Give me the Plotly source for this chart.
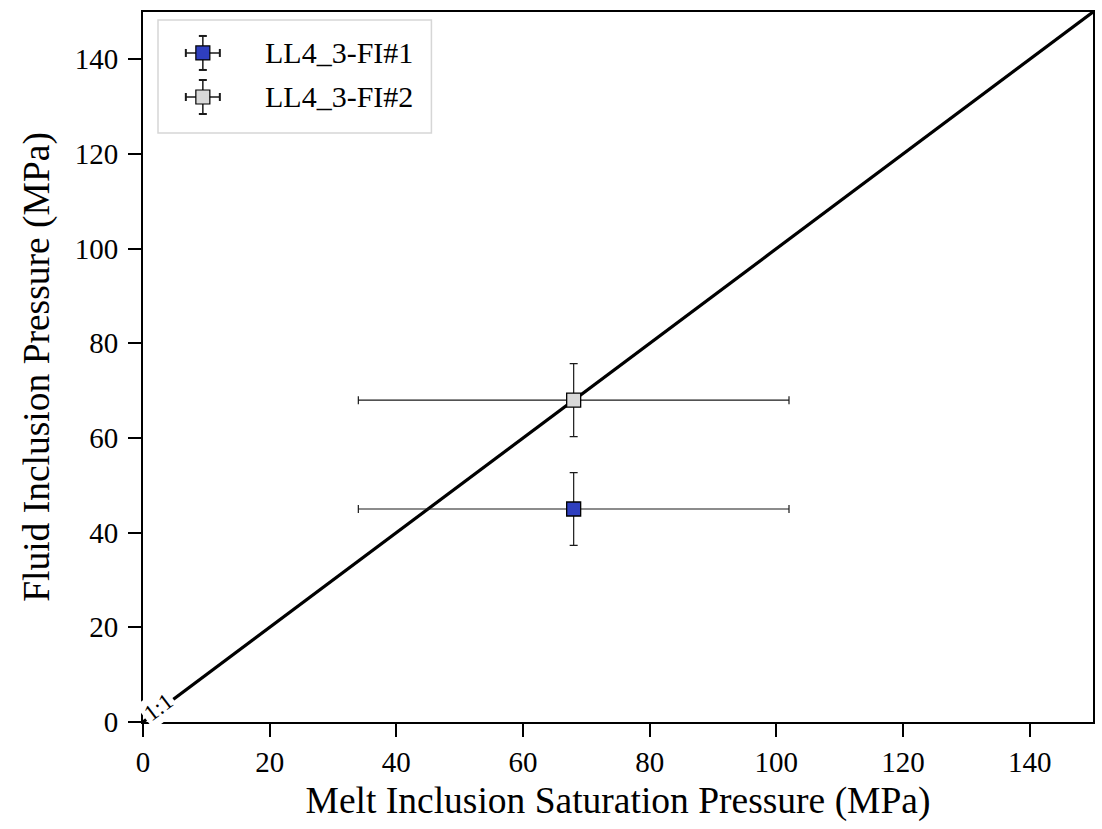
import plotly.graph_objects as go

# Data
series_names = ["LL4_3-FI#1", "LL4_3-FI#2"]
melt_sat_pressure = [68.0, 68.0]
melt_sat_err = [34.0, 34.0]
fluid_pressure = [45.0, 68.0]
fluid_err = [7.7, 7.7]
marker_colors = ["#2f3fbf", "#d9d9d9"]
one_to_one = [0, 150]
ticks = [0, 20, 40, 60, 80, 100, 120, 140]

FONT = "Liberation Serif, Times New Roman, serif"
ERR_COLOR = "#1a1a1a"

fig = go.Figure()

fig.add_trace(go.Scatter(
    x=one_to_one, y=one_to_one, mode="lines",
    line=dict(color="black", width=3.2), showlegend=False, hoverinfo="skip"))

for i, name in enumerate(series_names):
    fig.add_trace(go.Scatter(
        x=[melt_sat_pressure[i]], y=[fluid_pressure[i]], mode="markers", name=name,
        showlegend=False,
        marker=dict(symbol="square", size=14, color=marker_colors[i],
                    line=dict(color="black", width=1.3)),
        error_x=dict(type="data", array=[melt_sat_err[i]], color=ERR_COLOR,
                     thickness=1.2, width=4),
        error_y=dict(type="data", array=[fluid_err[i]], color=ERR_COLOR,
                     thickness=1.2, width=4),
    ))

fig.add_annotation(x=2.4, y=3.0, xref="x", yref="y", text="1:1", showarrow=False,
                   textangle=-37, font=dict(family=FONT, size=23, color="black"),
                   bgcolor="white", borderpad=2)

# ---- custom legend (paper coordinates, pixel-sized glyphs) ----
shapes = []
shapes.append(dict(type="rect", xref="paper", yref="paper",
                   x0=0.0158, x1=0.3036, y0=0.8296, y1=0.9887,
                   line=dict(color="#d6d6d6", width=1.5), fillcolor="white",
                   layer="above"))
row_y = [0.9423, 0.8803]
glyph_x = 0.063
text_x = 0.1261
for i, name in enumerate(series_names):
    common = dict(xref="paper", yref="paper", xsizemode="pixel", ysizemode="pixel",
                  xanchor=glyph_x, yanchor=row_y[i], layer="above")
    shapes.append(dict(type="line", x0=-17, x1=17, y0=0, y1=0,
                       line=dict(color=ERR_COLOR, width=1.5), **common))
    shapes.append(dict(type="line", x0=0, x1=0, y0=-17, y1=17,
                       line=dict(color=ERR_COLOR, width=1.5), **common))
    shapes.append(dict(type="line", x0=-17, x1=-17, y0=-4, y1=4,
                       line=dict(color=ERR_COLOR, width=2), **common))
    shapes.append(dict(type="line", x0=17, x1=17, y0=-4, y1=4,
                       line=dict(color=ERR_COLOR, width=2), **common))
    shapes.append(dict(type="line", x0=-4, x1=4, y0=-17, y1=-17,
                       line=dict(color=ERR_COLOR, width=2), **common))
    shapes.append(dict(type="line", x0=-4, x1=4, y0=17, y1=17,
                       line=dict(color=ERR_COLOR, width=2), **common))
    shapes.append(dict(type="rect", x0=-7, x1=7, y0=-7, y1=7,
                       fillcolor=marker_colors[i],
                       line=dict(color="black", width=1.2), **common))
    fig.add_annotation(x=text_x, y=row_y[i], xref="paper", yref="paper",
                       text=name, showarrow=False, xanchor="left", yanchor="middle",
                       font=dict(family=FONT, size=30, color="black"))

axis_common = dict(
    range=[0, 150], tickvals=ticks, ticks="outside", ticklen=13, tickwidth=1.8,
    tickcolor="black", showgrid=False, zeroline=False, showline=True,
    linecolor="black", linewidth=2, mirror=True,
    tickfont=dict(family=FONT, size=29, color="black"),
)

fig.update_xaxes(**axis_common,
                 title=dict(text="Melt Inclusion Saturation Pressure (MPa)",
                            font=dict(family=FONT, size=37.5, color="black"), standoff=10))
fig.update_yaxes(**axis_common, ticklabelstandoff=4,
                 title=dict(text="Fluid Inclusion Pressure (MPa)",
                            font=dict(family=FONT, size=37.5, color="black"), standoff=14))

fig.update_layout(
    width=1102, height=829,
    margin=dict(l=143, r=7, t=12, b=107),
    plot_bgcolor="white", paper_bgcolor="white",
    font=dict(family=FONT, color="black"),
    shapes=shapes,
    showlegend=False,
)

fig.write_html("out.html")
